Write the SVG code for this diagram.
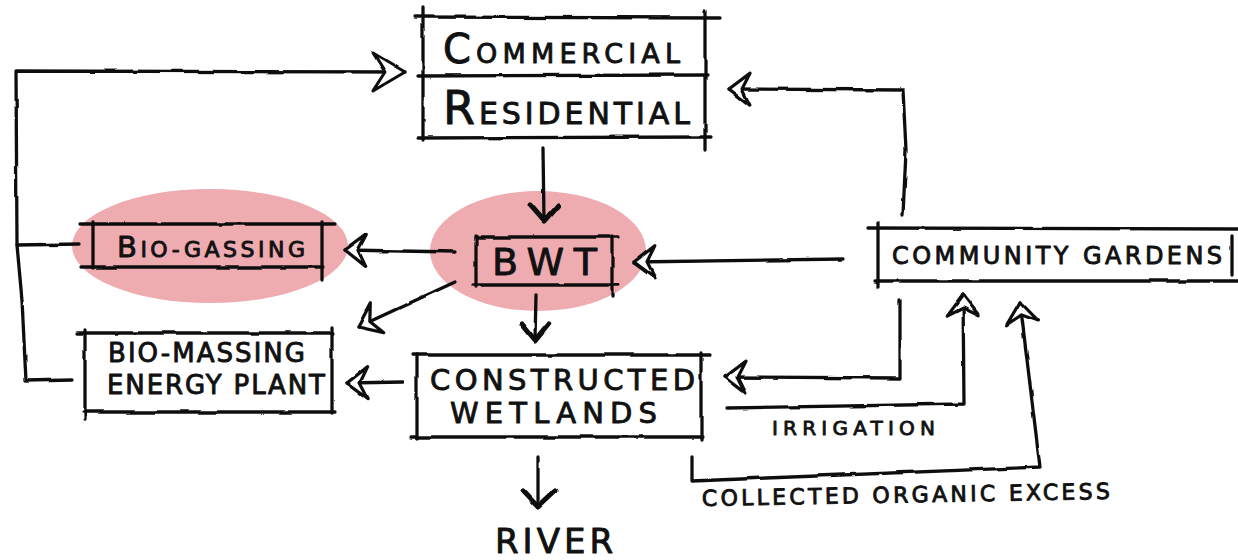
<svg xmlns="http://www.w3.org/2000/svg" width="1238" height="560" viewBox="0 0 1238 560">
  <defs>
    <style>
      .ln { fill: none; stroke: #111; stroke-width: 3.3; stroke-linecap: round; stroke-linejoin: round; }
      .head { fill: none; stroke: #111; stroke-width: 5; stroke-linecap: round; stroke-linejoin: round; }
      .lbl { font-family: "DejaVu Sans", "Liberation Sans", sans-serif; fill: #111; stroke: #111; stroke-width: 0.9; stroke-linejoin: round; }
      .blob { fill: #eeabb0; }
    </style>
    <!-- slight hand-drawn wobble for ink lines -->
    <filter id="wobble" x="-5%" y="-5%" width="110%" height="110%">
      <feTurbulence type="fractalNoise" baseFrequency="0.035" numOctaves="2" seed="3" result="n"/>
      <feDisplacementMap in="SourceGraphic" in2="n" scale="3" xChannelSelector="R" yChannelSelector="G"/>
    </filter>
    <!-- hollow dart arrowheads -->
    <marker id="dart" markerUnits="userSpaceOnUse" viewBox="-26 -20 30 40" refX="0" refY="0" markerWidth="30" markerHeight="40" orient="auto">
      <path d="M0,0 L-21,-16 L-13,0 L-21,16 Z" fill="#fff" stroke="#111" stroke-width="3.2" stroke-linejoin="round"/>
    </marker>
    <marker id="dartL" markerUnits="userSpaceOnUse" viewBox="-36 -22 40 44" refX="0" refY="0" markerWidth="40" markerHeight="44" orient="auto">
      <path d="M0,0 L-32,-19 L-20,0 L-32,19 Z" fill="#fff" stroke="#111" stroke-width="3" stroke-linejoin="round"/>
    </marker>
  </defs>

  <rect width="1238" height="560" fill="#fff"/>

  <!-- highlight blobs -->
  <ellipse class="blob" cx="210" cy="246" rx="138" ry="57"/>
  <ellipse class="blob" cx="538" cy="251" rx="108" ry="60"/>

  <g id="connectors" filter="url(#wobble)">
    <!-- bio plants loop back to commercial/residential -->
    <path class="ln" d="M72,380 L26,381 L22,300 L17,245 L16,71 L405,72" marker-end="url(#dartL)"/>
    <path class="ln" d="M17,245 L78,244"/>
    <!-- commercial/residential to BWT -->
    <path class="ln" d="M543,148 L544,220"/>
    <path class="head" d="M530,205 L544,221 L558,205"/>
    <!-- BWT to bio-gassing -->
    <path class="ln" d="M455,252 L345,250" marker-end="url(#dart)"/>
    <!-- BWT to bio-massing -->
    <path class="ln" d="M455,282 L358,327" marker-end="url(#dart)"/>
    <!-- BWT to constructed wetlands -->
    <path class="ln" d="M536,295 L535,340"/>
    <path class="head" d="M521,324 L535,341 L549,324"/>
    <!-- constructed wetlands to bio-massing -->
    <path class="ln" d="M403,382 L347,383" marker-end="url(#dart)"/>
    <!-- constructed wetlands to river -->
    <path class="ln" d="M538,457 L538,506"/>
    <path class="head" d="M523,491 L538,507 L555,491"/>
    <!-- community gardens to residential -->
    <path class="ln" d="M903,215 L906,150 L903,90 L729,89" marker-end="url(#dart)"/>
    <!-- community gardens to BWT -->
    <path class="ln" d="M843,259 L634,262" marker-end="url(#dart)"/>
    <!-- community gardens to constructed wetlands -->
    <path class="ln" d="M900,300 L900,378 L725,377" marker-end="url(#dart)"/>
    <!-- irrigation -->
    <path class="ln" d="M727,408 L964,404 L963,295" marker-end="url(#dart)"/>
    <!-- collected organic excess -->
    <path class="ln" d="M692,457 L692,481 L1040,467 L1020,302" marker-end="url(#dart)"/>
  </g>

  <g id="commercial-residential">
    <g class="ln" filter="url(#wobble)">
      <path d="M415,17 L720,18"/>
      <path d="M418,76 L707,75"/>
      <path d="M418,138 L711,137"/>
      <path d="M423,8 L423,140"/>
      <path d="M705,12 L705,150"/>
    </g>
    <text class="lbl" x="443" y="63" textLength="237" lengthAdjust="spacing"><tspan font-size="40">C</tspan><tspan font-size="27">OMMERCIAL</tspan></text>
    <text class="lbl" x="443" y="124" textLength="247" lengthAdjust="spacing"><tspan font-size="46">R</tspan><tspan font-size="30">ESIDENTIAL</tspan></text>
  </g>

  <g id="bwt">
    <g class="ln" filter="url(#wobble)">
      <path d="M476,237 L618,237"/>
      <path d="M472,285 L618,285"/>
      <path d="M476,235 L476,287"/>
      <path d="M612,236 L612,297"/>
    </g>
    <text class="lbl" x="492" y="275" font-size="38" textLength="105" lengthAdjust="spacing">BWT</text>
  </g>

  <g id="bio-gassing">
    <g class="ln" filter="url(#wobble)">
      <path d="M80,224 L335,224"/>
      <path d="M81,267 L323,267"/>
      <path d="M93,222 L93,268"/>
      <path d="M322,222 L322,280"/>
    </g>
    <text class="lbl" x="117" y="257" textLength="188" lengthAdjust="spacing"><tspan font-size="29">B</tspan><tspan font-size="22">IO-GASSING</tspan></text>
  </g>

  <g id="bio-massing">
    <g class="ln" filter="url(#wobble)">
      <path d="M77,333 L333,333"/>
      <path d="M83,412 L335,412"/>
      <path d="M85,330 L85,420"/>
      <path d="M332,327 L332,413"/>
    </g>
    <text class="lbl" x="108" y="362" font-size="26" textLength="197" lengthAdjust="spacing">BIO-MASSING</text>
    <text class="lbl" x="107" y="394" font-size="26" textLength="218" lengthAdjust="spacing">ENERGY PLANT</text>
  </g>

  <g id="constructed-wetlands">
    <g class="ln" filter="url(#wobble)">
      <path d="M413,355 L710,355"/>
      <path d="M412,437 L702,437"/>
      <path d="M417,355 L417,438"/>
      <path d="M701,353 L701,440"/>
    </g>
    <text class="lbl" x="430" y="390" font-size="29" textLength="265" lengthAdjust="spacing">CONSTRUCTED</text>
    <text class="lbl" x="450" y="423" font-size="29" textLength="207" lengthAdjust="spacing">WETLANDS</text>
  </g>

  <g id="community-gardens">
    <g class="ln" filter="url(#wobble)">
      <path d="M868,228 L1238,229"/>
      <path d="M875,281 L1238,281"/>
      <path d="M878,223 L878,287"/>
      <path d="M1232,236 L1232,275"/>
    </g>
    <text class="lbl" x="892" y="264" font-size="24" textLength="330" lengthAdjust="spacing">COMMUNITY GARDENS</text>
  </g>

  <g id="flow-labels">
    <text class="lbl" x="772" y="435" font-size="20" textLength="163" lengthAdjust="spacing">IRRIGATION</text>
    <text class="lbl" x="702" y="506" font-size="22" textLength="408" lengthAdjust="spacing" transform="rotate(-1 702 506)">COLLECTED ORGANIC EXCESS</text>
  </g>

  <g id="river">
    <text class="lbl" x="495" y="553" font-size="34" textLength="118" lengthAdjust="spacing">RIVER</text>
  </g>
</svg>
